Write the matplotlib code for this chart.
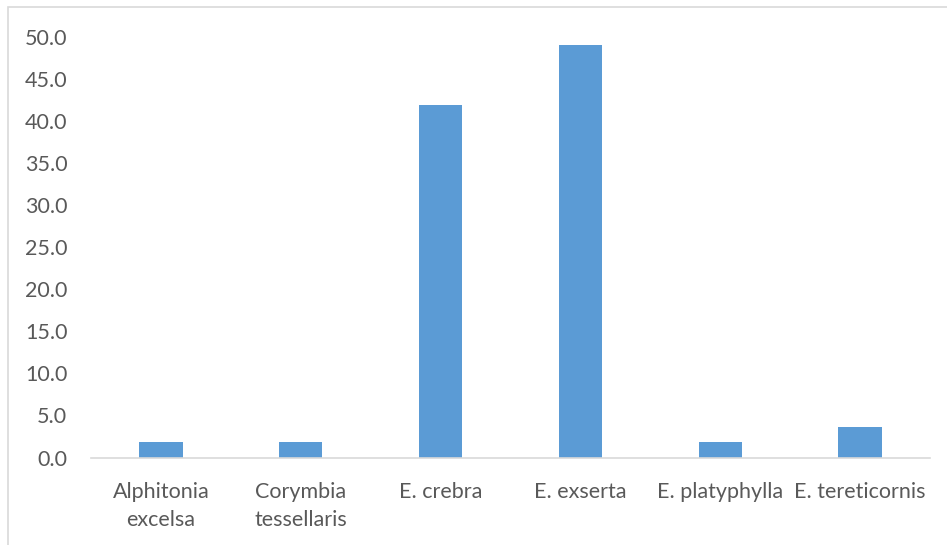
import matplotlib.pyplot as plt
from matplotlib.patches import Rectangle

# data
species = ['Alphitonia\nexcelsa', 'Corymbia\ntessellaris', 'E. crebra',
           'E. exserta', 'E. platyphylla', 'E. tereticornis']
values = [1.8, 1.8, 41.9, 49.1, 1.8, 3.6]
yticks = [0, 5, 10, 15, 20, 25, 30, 35, 40, 45, 50]

plt.rcParams['font.family'] = ['Lato', 'DejaVu Sans']

fig = plt.figure(figsize=(9.47, 5.45), dpi=100)
ax = fig.add_axes([91 / 947, 87.5 / 545, 839 / 947, 420.5 / 545])

# chart border (light gray frame)
fig.patches.append(Rectangle((8 / 947, -0.1), 1.2, 1.1 - 7 / 545,
                             transform=fig.transFigure, fill=False,
                             edgecolor='#d9d9d9', linewidth=1.2))

x = range(len(species))
ax.bar(x, values, width=0.31, color='#5b9bd5', zorder=2)

ax.set_xlim(-0.5, len(species) - 0.5)
ax.set_ylim(0, 50)
ax.set_yticks(yticks)
ax.set_yticklabels(['%.1f' % v for v in yticks])
ax.set_xticks(list(x))
ax.set_xticklabels(species, linespacing=1.45)

ax.tick_params(axis='both', length=0, labelsize=15.5, colors='#595959')
ax.tick_params(axis='x', pad=18)
ax.tick_params(axis='y', pad=17)
for s in ['top', 'right', 'left']:
    ax.spines[s].set_visible(False)
ax.spines['bottom'].set_color('#d9d9d9')
ax.spines['bottom'].set_linewidth(1.2)

fig.savefig('out.png', dpi=100)
